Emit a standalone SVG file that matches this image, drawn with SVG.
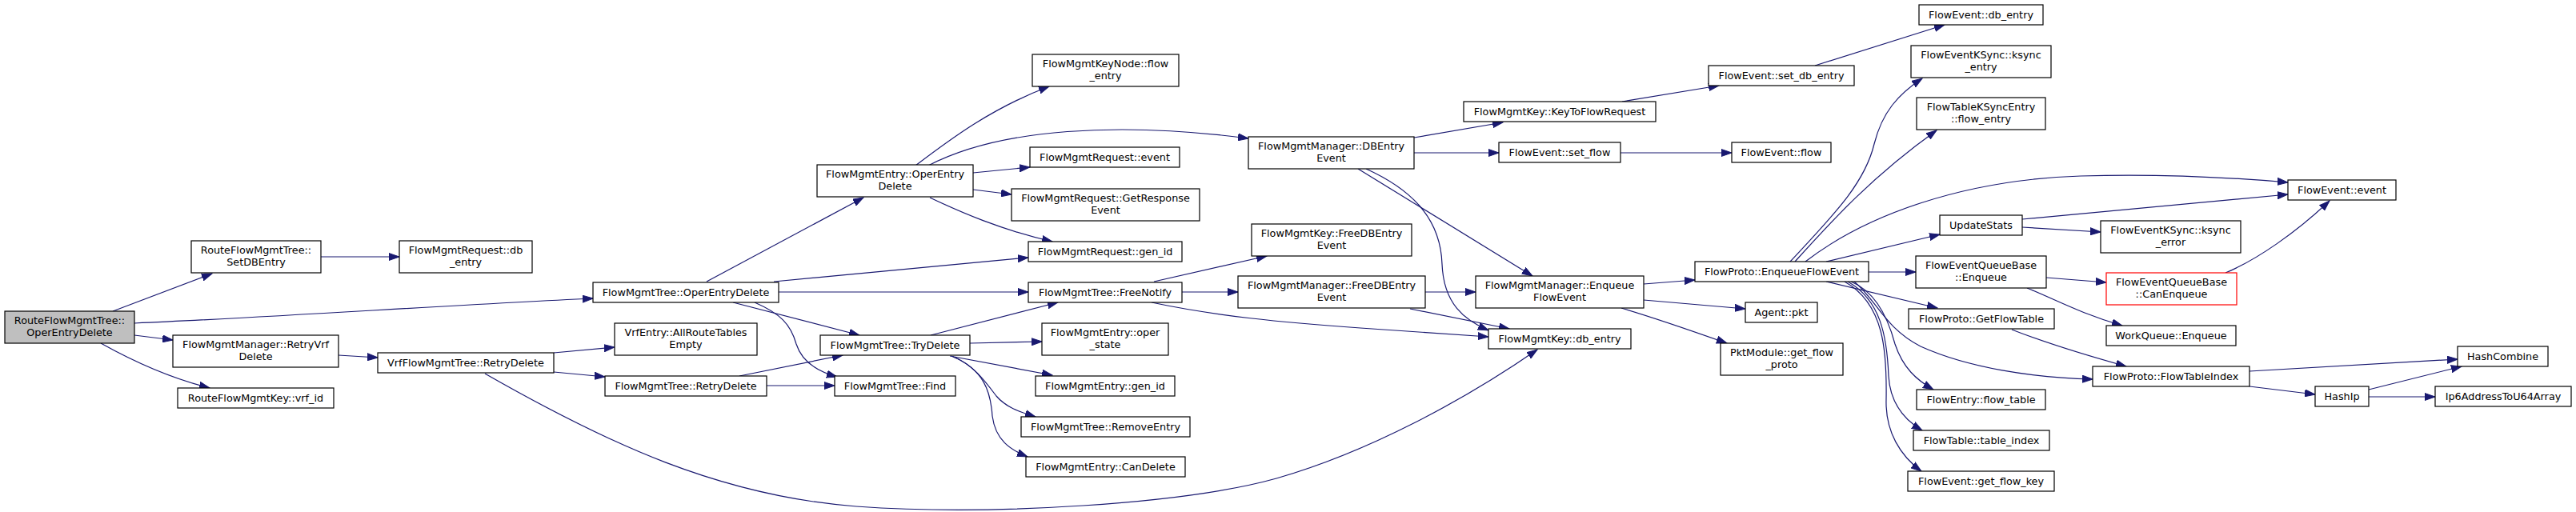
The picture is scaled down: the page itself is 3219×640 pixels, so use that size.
<svg xmlns="http://www.w3.org/2000/svg" width="3219" height="640" viewBox="0 0 3219 640">
<style>
.node rect{fill:#fff;stroke:#000;stroke-width:1.2}
.root rect{fill:#bfbfbf}
.red rect{stroke:#ff0000}
text{font-family:"DejaVu Sans","Liberation Sans",sans-serif;font-size:12.8px;text-anchor:middle;fill:#000}
#edges path{fill:none;stroke:#191970;stroke-width:1.2;marker-end:url(#ah)}
</style>
<defs>
<marker id="ah" markerWidth="14" markerHeight="10" refX="13" refY="5" orient="auto" markerUnits="userSpaceOnUse"><path d="M0,0.5 L13,5 L0,9.5 z" fill="#191970" stroke="#191970" stroke-width="1"/></marker>
</defs>
<rect width="3219" height="640" fill="#fff"/>
<g id="edges">
<path d="M141,389 L265,342"/>
<path d="M168,404 C350,396 550,382 741,373"/>
<path d="M168,419 L216,425"/>
<path d="M126,429 C160,448 210,472 262,485"/>
<path d="M401,321 L499,321"/>
<path d="M423,444 L472,447"/>
<path d="M692,441 L768,434"/>
<path d="M692,465 L756,471"/>
<path d="M606,467 C760,555 900,620 1070,633 C1240,645 1480,630 1595,598 C1710,565 1830,500 1921,437"/>
<path d="M883,352 L1079,247"/>
<path d="M967,352 L1285,322"/>
<path d="M973,365 L1285,365"/>
<path d="M916,378 L1074,419"/>
<path d="M943,378 C975,392 988,405 995,430 C1002,452 1020,464 1046,471"/>
<path d="M924,470 L1053,444"/>
<path d="M958,482 L1043,482"/>
<path d="M1163,419 L1322,378"/>
<path d="M1212,429 L1302,427"/>
<path d="M1187,445 L1315,469"/>
<path d="M1191,446 C1215,455 1230,475 1245,495 C1258,510 1275,515 1294,521"/>
<path d="M1189,445 C1230,462 1238,490 1240,520 C1244,550 1262,562 1284,571"/>
<path d="M1477,365 L1547,365"/>
<path d="M1439,378 C1520,395 1600,403 1700,410 C1780,415 1830,419 1860,421"/>
<path d="M1442,352 L1583,320"/>
<path d="M1144,207 C1190,172 1240,135 1311,108"/>
<path d="M1160,207 C1250,160 1400,152 1560,173"/>
<path d="M1216,216 L1287,209"/>
<path d="M1216,237 L1264,243"/>
<path d="M1162,247 C1200,265 1250,287 1315,302"/>
<path d="M1767,172 L1878,153"/>
<path d="M1767,191 L1873,191"/>
<path d="M1697,211 L1915,345"/>
<path d="M1707,211 C1760,235 1800,270 1802,330 C1804,380 1830,400 1860,413"/>
<path d="M2027,127 L2148,107"/>
<path d="M2025,191 L2164,191"/>
<path d="M1781,365 L1844,365"/>
<path d="M1762,386 L1886,411"/>
<path d="M2054,355 L2118,350"/>
<path d="M2054,375 L2181,386"/>
<path d="M2026,385 C2070,398 2110,412 2158,429"/>
<path d="M2268,82 L2430,31"/>
<path d="M2237,327 C2290,270 2330,230 2342,180 C2352,140 2372,118 2402,98"/>
<path d="M2243,327 C2290,275 2340,220 2420,163"/>
<path d="M2256,327 C2330,270 2450,225 2600,220 C2700,217 2790,222 2859,228"/>
<path d="M2282,327 L2424,293"/>
<path d="M2527,274 L2859,243"/>
<path d="M2527,284 L2625,290"/>
<path d="M2781,341 C2820,325 2870,290 2911,251"/>
<path d="M2335,340 L2394,340"/>
<path d="M2282,352 L2421,385"/>
<path d="M2313,352 C2345,365 2360,400 2368,430 C2378,460 2395,475 2416,487"/>
<path d="M2309,352 C2350,375 2358,420 2360,470 C2362,505 2380,525 2402,538"/>
<path d="M2305,352 C2355,380 2358,440 2357,500 C2356,540 2375,570 2401,589"/>
<path d="M2317,352 C2345,375 2355,410 2400,433 C2460,460 2540,472 2615,474"/>
<path d="M2557,347 L2632,353"/>
<path d="M2533,360 C2570,375 2600,392 2652,407"/>
<path d="M2514,412 C2560,430 2610,445 2657,458"/>
<path d="M2811,464 L3071,449"/>
<path d="M2811,483 L2893,493"/>
<path d="M2960,487 L3076,458"/>
<path d="M2960,496 L3043,496"/>
</g>
<g id="n1" class="node root"><rect x="6" y="389" width="162" height="40"/><text x="87" y="405">RouteFlowMgmtTree::</text><text x="87" y="420">OperEntryDelete</text></g>
<g id="n2" class="node"><rect x="239" y="301" width="162" height="40"/><text x="320" y="317">RouteFlowMgmtTree::</text><text x="320" y="332">SetDBEntry</text></g>
<g id="n3" class="node"><rect x="499" y="301" width="166" height="40"/><text x="582" y="317">FlowMgmtRequest::db</text><text x="582" y="332">_entry</text></g>
<g id="n4" class="node"><rect x="216" y="419" width="207" height="40"/><text x="319.5" y="435">FlowMgmtManager::RetryVrf</text><text x="319.5" y="450">Delete</text></g>
<g id="n5" class="node"><rect x="222" y="485" width="195" height="25"/><text x="319.5" y="502">RouteFlowMgmtKey::vrf_id</text></g>
<g id="n6" class="node"><rect x="472" y="441" width="220" height="25"/><text x="582" y="458">VrfFlowMgmtTree::RetryDelete</text></g>
<g id="n7" class="node"><rect x="741" y="353" width="232" height="25"/><text x="857" y="370">FlowMgmtTree::OperEntryDelete</text></g>
<g id="n8" class="node"><rect x="768" y="404" width="178" height="40"/><text x="857" y="420">VrfEntry::AllRouteTables</text><text x="857" y="435">Empty</text></g>
<g id="n9" class="node"><rect x="756" y="470" width="202" height="25"/><text x="857" y="487">FlowMgmtTree::RetryDelete</text></g>
<g id="n10" class="node"><rect x="1021" y="206" width="195" height="40"/><text x="1118.5" y="222">FlowMgmtEntry::OperEntry</text><text x="1118.5" y="237">Delete</text></g>
<g id="n11" class="node"><rect x="1025" y="419" width="187" height="25"/><text x="1118.5" y="436">FlowMgmtTree::TryDelete</text></g>
<g id="n12" class="node"><rect x="1043" y="470" width="151" height="25"/><text x="1118.5" y="487">FlowMgmtTree::Find</text></g>
<g id="n13" class="node"><rect x="1290" y="68" width="183" height="40"/><text x="1381.5" y="84">FlowMgmtKeyNode::flow</text><text x="1381.5" y="99">_entry</text></g>
<g id="n14" class="node"><rect x="1287" y="184" width="187" height="25"/><text x="1380.5" y="201">FlowMgmtRequest::event</text></g>
<g id="n15" class="node"><rect x="1264" y="236" width="235" height="40"/><text x="1381.5" y="252">FlowMgmtRequest::GetResponse</text><text x="1381.5" y="267">Event</text></g>
<g id="n16" class="node"><rect x="1285" y="302" width="192" height="25"/><text x="1381" y="319">FlowMgmtRequest::gen_id</text></g>
<g id="n17" class="node"><rect x="1285" y="353" width="192" height="25"/><text x="1381" y="370">FlowMgmtTree::FreeNotify</text></g>
<g id="n18" class="node"><rect x="1302" y="404" width="158" height="40"/><text x="1381" y="420">FlowMgmtEntry::oper</text><text x="1381" y="435">_state</text></g>
<g id="n19" class="node"><rect x="1294" y="470" width="174" height="25"/><text x="1381" y="487">FlowMgmtEntry::gen_id</text></g>
<g id="n20" class="node"><rect x="1276" y="521" width="211" height="25"/><text x="1381.5" y="538">FlowMgmtTree::RemoveEntry</text></g>
<g id="n21" class="node"><rect x="1282" y="571" width="199" height="25"/><text x="1381.5" y="588">FlowMgmtEntry::CanDelete</text></g>
<g id="n22" class="node"><rect x="1560" y="171" width="207" height="40"/><text x="1663.5" y="187">FlowMgmtManager::DBEntry</text><text x="1663.5" y="202">Event</text></g>
<g id="n23" class="node"><rect x="1564" y="280" width="200" height="40"/><text x="1664" y="296">FlowMgmtKey::FreeDBEntry</text><text x="1664" y="311">Event</text></g>
<g id="n24" class="node"><rect x="1547" y="345" width="234" height="40"/><text x="1664" y="361">FlowMgmtManager::FreeDBEntry</text><text x="1664" y="376">Event</text></g>
<g id="n25" class="node"><rect x="1829" y="127" width="240" height="25"/><text x="1949" y="144">FlowMgmtKey::KeyToFlowRequest</text></g>
<g id="n26" class="node"><rect x="1873" y="178" width="152" height="25"/><text x="1949" y="195">FlowEvent::set_flow</text></g>
<g id="n27" class="node"><rect x="1844" y="345" width="210" height="40"/><text x="1949" y="361">FlowMgmtManager::Enqueue</text><text x="1949" y="376">FlowEvent</text></g>
<g id="n28" class="node"><rect x="1860" y="411" width="178" height="25"/><text x="1949" y="428">FlowMgmtKey::db_entry</text></g>
<g id="n29" class="node"><rect x="2118" y="327" width="217" height="25"/><text x="2226.5" y="344">FlowProto::EnqueueFlowEvent</text></g>
<g id="n30" class="node"><rect x="2135" y="82" width="182" height="25"/><text x="2226" y="99">FlowEvent::set_db_entry</text></g>
<g id="n31" class="node"><rect x="2164" y="178" width="124" height="25"/><text x="2226" y="195">FlowEvent::flow</text></g>
<g id="n32" class="node"><rect x="2181" y="378" width="90" height="25"/><text x="2226" y="395">Agent::pkt</text></g>
<g id="n33" class="node"><rect x="2150" y="429" width="153" height="40"/><text x="2226.5" y="445">PktModule::get_flow</text><text x="2226.5" y="460">_proto</text></g>
<g id="n34" class="node"><rect x="2398" y="6" width="155" height="25"/><text x="2475.5" y="23">FlowEvent::db_entry</text></g>
<g id="n35" class="node"><rect x="2388" y="57" width="175" height="40"/><text x="2475.5" y="73">FlowEventKSync::ksync</text><text x="2475.5" y="88">_entry</text></g>
<g id="n36" class="node"><rect x="2395" y="122" width="161" height="40"/><text x="2475.5" y="138">FlowTableKSyncEntry</text><text x="2475.5" y="153">::flow_entry</text></g>
<g id="n37" class="node"><rect x="2424" y="269" width="103" height="25"/><text x="2475.5" y="286">UpdateStats</text></g>
<g id="n38" class="node"><rect x="2394" y="320" width="163" height="40"/><text x="2475.5" y="336">FlowEventQueueBase</text><text x="2475.5" y="351">::Enqueue</text></g>
<g id="n39" class="node"><rect x="2385" y="386" width="182" height="25"/><text x="2476" y="403">FlowProto::GetFlowTable</text></g>
<g id="n40" class="node"><rect x="2395" y="487" width="161" height="25"/><text x="2475.5" y="504">FlowEntry::flow_table</text></g>
<g id="n41" class="node"><rect x="2391" y="538" width="170" height="25"/><text x="2476" y="555">FlowTable::table_index</text></g>
<g id="n42" class="node"><rect x="2384" y="589" width="183" height="25"/><text x="2475.5" y="606">FlowEvent::get_flow_key</text></g>
<g id="n43" class="node"><rect x="2859" y="225" width="135" height="25"/><text x="2926.5" y="242">FlowEvent::event</text></g>
<g id="n44" class="node"><rect x="2625" y="276" width="175" height="40"/><text x="2712.5" y="292">FlowEventKSync::ksync</text><text x="2712.5" y="307">_error</text></g>
<g id="n45" class="node red"><rect x="2632" y="341" width="163" height="40"/><text x="2713.5" y="357">FlowEventQueueBase</text><text x="2713.5" y="372">::CanEnqueue</text></g>
<g id="n46" class="node"><rect x="2632" y="407" width="162" height="25"/><text x="2713" y="424">WorkQueue::Enqueue</text></g>
<g id="n47" class="node"><rect x="2615" y="458" width="196" height="25"/><text x="2713" y="475">FlowProto::FlowTableIndex</text></g>
<g id="n48" class="node"><rect x="3071" y="433" width="113" height="25"/><text x="3127.5" y="450">HashCombine</text></g>
<g id="n49" class="node"><rect x="2893" y="483" width="67" height="25"/><text x="2926.5" y="500">HashIp</text></g>
<g id="n50" class="node"><rect x="3043" y="483" width="170" height="25"/><text x="3128" y="500">Ip6AddressToU64Array</text></g>
</svg>
